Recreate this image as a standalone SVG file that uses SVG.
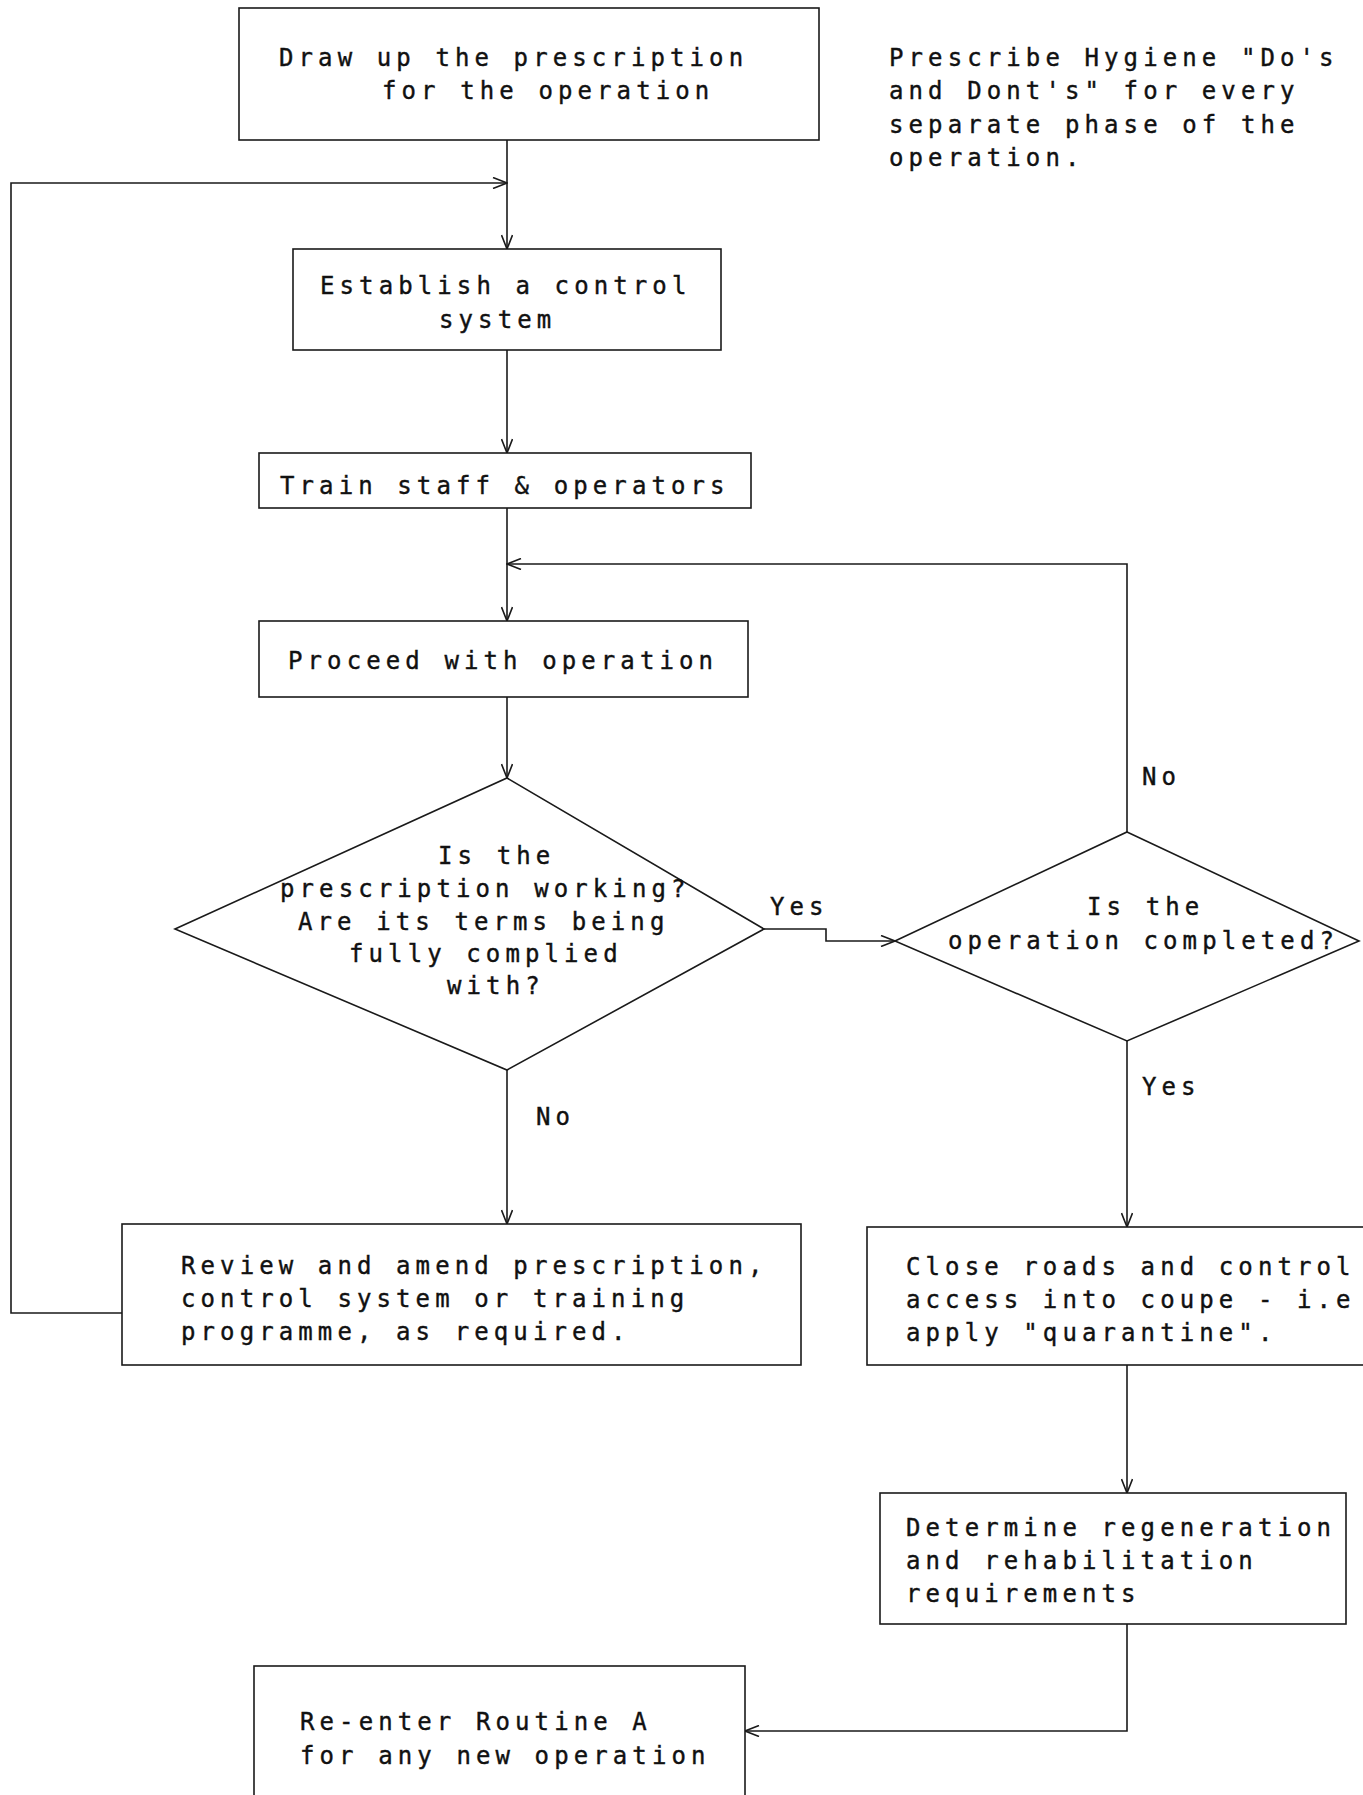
<svg xmlns="http://www.w3.org/2000/svg" width="1363" height="1795" viewBox="0 0 1363 1795">
  <defs>
    <marker id="arrow" markerWidth="16" markerHeight="12" refX="15" refY="6" orient="auto" markerUnits="userSpaceOnUse">
      <path d="M1,0.5 L15,6 L1,11.5" fill="none" stroke="#1a1a1a" stroke-width="1.6"/>
    </marker>
    <style>
      .box { fill: #ffffff; stroke: #1a1a1a; stroke-width: 1.6; }
      .link { fill: none; stroke: #1a1a1a; stroke-width: 1.6; }
      text { font-family: "DejaVu Sans Mono", "Liberation Mono", monospace; font-size: 24px; letter-spacing: 5.1px; fill: #111111; stroke: #111111; stroke-width: 0.4; }
    </style>
  </defs>
  <rect width="1363" height="1795" fill="#ffffff"/>

  <!-- connectors -->
  <g id="connectors">
    <path class="link" d="M507,140 V249" marker-end="url(#arrow)"/>
    <path class="link" d="M122,1313 H11 V183 H507" marker-end="url(#arrow)"/>
    <path class="link" d="M507,350 V453" marker-end="url(#arrow)"/>
    <path class="link" d="M507,508 V621" marker-end="url(#arrow)"/>
    <path class="link" d="M507,697 V778" marker-end="url(#arrow)"/>
    <path class="link" d="M764,929 H826 V941 H895" marker-end="url(#arrow)"/>
    <path class="link" d="M1127,832 V564 H507" marker-end="url(#arrow)"/>
    <path class="link" d="M507,1070 V1224" marker-end="url(#arrow)"/>
    <path class="link" d="M1127,1041 V1227" marker-end="url(#arrow)"/>
    <path class="link" d="M1127,1365 V1493" marker-end="url(#arrow)"/>
    <path class="link" d="M1127,1624 V1731 H745" marker-end="url(#arrow)"/>
    <text x="770" y="915">Yes</text>
    <text x="1142" y="785">No</text>
    <text x="1142" y="1095">Yes</text>
    <text x="536" y="1125">No</text>
  </g>

  <g id="draw-prescription">
    <rect class="box" x="239" y="8" width="580" height="132"/>
    <text x="279" y="66">Draw up the prescription</text>
    <text x="382" y="99">for the operation</text>
  </g>

  <g id="hygiene-note">
    <text x="889" y="66">Prescribe Hygiene "Do's</text>
    <text x="889" y="99">and Dont's" for every</text>
    <text x="889" y="133">separate phase of the</text>
    <text x="889" y="166">operation.</text>
  </g>

  <g id="control-system">
    <rect class="box" x="293" y="249" width="428" height="101"/>
    <text x="320" y="294">Establish a control</text>
    <text x="439" y="328">system</text>
  </g>

  <g id="train-staff">
    <rect class="box" x="259" y="453" width="492" height="55"/>
    <text x="280" y="494">Train staff &amp; operators</text>
  </g>

  <g id="proceed">
    <rect class="box" x="259" y="621" width="489" height="76"/>
    <text x="288" y="669">Proceed with operation</text>
  </g>

  <g id="prescription-working">
    <polygon class="box" points="507,778 764,929 507,1070 175,929"/>
    <text x="438" y="864">Is the</text>
    <text x="280" y="897">prescription working?</text>
    <text x="298" y="930">Are its terms being</text>
    <text x="349" y="962">fully complied</text>
    <text x="447" y="994">with?</text>
  </g>

  <g id="operation-completed">
    <polygon class="box" points="1127,832 1359,941 1127,1041 895,941"/>
    <text x="1087" y="915">Is the</text>
    <text x="948" y="949">operation completed?</text>
  </g>

  <g id="review-amend">
    <rect class="box" x="122" y="1224" width="679" height="141"/>
    <text x="181" y="1274">Review and amend prescription,</text>
    <text x="181" y="1307">control system or training</text>
    <text x="181" y="1340">programme, as required.</text>
  </g>

  <g id="close-roads">
    <rect class="box" x="867" y="1227" width="510" height="138"/>
    <text x="906" y="1275">Close roads and control</text>
    <text x="906" y="1308">access into coupe - i.e</text>
    <text x="906" y="1341">apply "quarantine".</text>
  </g>

  <g id="regeneration">
    <rect class="box" x="880" y="1493" width="466" height="131"/>
    <text x="906" y="1536">Determine regeneration</text>
    <text x="906" y="1569">and rehabilitation</text>
    <text x="906" y="1602">requirements</text>
  </g>

  <g id="re-enter">
    <rect class="box" x="254" y="1666" width="491" height="140"/>
    <text x="300" y="1730">Re-enter Routine A</text>
    <text x="300" y="1764">for any new operation</text>
  </g>
</svg>
